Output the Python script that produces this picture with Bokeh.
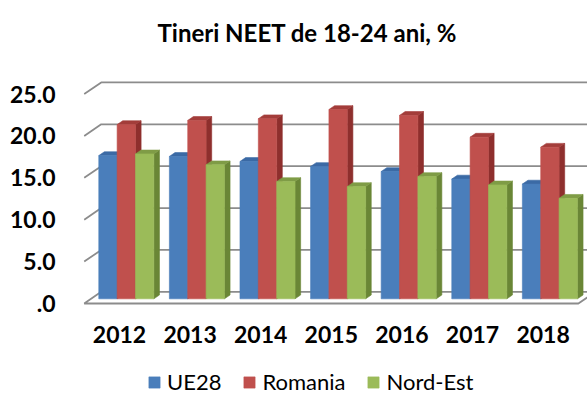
from bokeh.plotting import figure
from bokeh.models import Range1d, FixedTicker, Legend, LegendItem, Title, ColumnDataSource
from bokeh.core.properties import value
from bokeh.embed import file_html
from bokeh.resources import INLINE

# ---- data ----
years = ["2012", "2013", "2014", "2015", "2016", "2017", "2018"]
series_names = ["UE28", "Romania", "Nord-Est"]
ue28 = [17.1, 17.0, 16.4, 15.8, 15.2, 14.3, 13.7]
romania = [20.8, 21.3, 21.5, 22.6, 21.9, 19.3, 18.1]
nord_est = [17.3, 16.0, 14.0, 13.4, 14.6, 13.6, 12.0]
y_ticks = [0, 5, 10, 15, 20, 25]
y_tick_labels = [".0", "5.0", "10.0", "15.0", "20.0", "25.0"]

# ---- style ----
front_cols = ["#4a7ebb", "#c0504d", "#9bbb59"]
top_cols = ["#3b6aa5", "#a33d3a", "#7f9c46"]
side_cols = ["#2f5c91", "#8e2f2d", "#6a8636"]
grid_col = "#8c8c8c"
FONT = "Lato"

n = len(years)
DX, DY = 0.241, 1.39      # depth vector of the back wall (data units)
F0, FD = 0.40, 0.33       # bar front depth / bar depth (fractions of DX, DY)
BW = 0.26                 # bar width
LABEL_Y = -3.73           # vertical place of the category labels (below the floor)

p = figure(width=587, height=405, output_backend="svg", toolbar_location=None,
           x_range=Range1d(-0.01, 7.129), y_range=Range1d(-12.18, 28.89),
           min_border_left=83, min_border_right=0, min_border_top=60,
           min_border_bottom=0, background_fill_color="white",
           border_fill_color="white", outline_line_color=None)
p.grid.visible = False
p.xaxis.visible = False

# title
p.title = Title(text="Tineri NEET de 18-24 ani, %", align="left", offset=74,
                text_font=FONT, text_font_size="24px", text_font_style="bold",
                text_color="#000000", standoff=30)

# y axis
p.yaxis.ticker = FixedTicker(ticks=y_ticks)
p.yaxis.major_label_overrides = {t: l for t, l in zip(y_ticks, y_tick_labels)}
p.yaxis.axis_line_color = None
p.yaxis.major_tick_line_color = None
p.yaxis.minor_tick_line_color = None
p.yaxis.major_label_standoff = 22
p.yaxis.major_label_text_font = FONT
p.yaxis.major_label_text_font_size = "23px"
p.yaxis.major_label_text_font_style = "bold"
p.yaxis.major_label_text_color = "#000000"

# category labels
p.text(x=[i + 0.5 for i in range(n)], y=[LABEL_Y] * n, text=years,
       text_font=value(FONT), text_font_size="23px", text_font_style="bold",
       text_color="#000000", text_align="center", text_baseline="middle")

# back wall gridlines + left wall slants
gx, gy = [], []
for t in y_ticks:
    if t == 0:
        continue
    gx.append([0, DX, n + DX])
    gy.append([t, t + DY, t + DY])
p.multi_line(gx, gy, line_color=grid_col, line_width=1.8)

# floor
p.patch([0, n, n + DX, DX], [0, 0, DY, DY], fill_color="white",
        line_color=grid_col, line_width=1.8)

# bars (pseudo 3D) : side, top, front for each bar, left to right
values = [ue28, romania, nord_est]
xs, ys, cols = [], [], []
front_index = {}
for i in range(n):
    gc = i + 0.5 + F0 * DX
    base = F0 * DY
    for s in range(3):
        x0 = gc - 1.5 * BW + s * BW
        x1 = x0 + BW
        top = values[s][i] + base
        ddx, ddy = FD * DX, FD * DY
        xs.append([x1, x1 + ddx, x1 + ddx, x1]); ys.append([base, base + ddy, top + ddy, top]); cols.append(side_cols[s])
        xs.append([x0, x1, x1 + ddx, x0 + ddx]); ys.append([top, top, top + ddy, top + ddy]); cols.append(top_cols[s])
        xs.append([x0, x1, x1, x0]); ys.append([base, base, top, top]); cols.append(front_cols[s])
        if i == 0:
            front_index[s] = len(xs) - 1

src = ColumnDataSource(dict(xs=xs, ys=ys, c=cols))
r = p.patches("xs", "ys", source=src, fill_color="c", line_color="c", line_width=0.6)

legend = Legend(items=[LegendItem(label=series_names[s], renderers=[r], index=front_index[s]) for s in range(3)],
                orientation="horizontal", location=(64, 10), glyph_width=14, glyph_height=14,
                label_standoff=6, spacing=21, padding=0, margin=0,
                border_line_color=None, background_fill_alpha=0,
                label_text_font=FONT, label_text_font_size="22px", label_text_color="#000000")
p.add_layout(legend, "center")

open("out.html", "w").write(file_html(p, INLINE))
